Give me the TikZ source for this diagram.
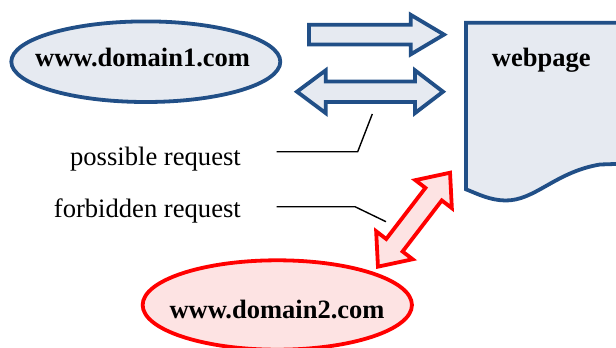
\documentclass[tikz,border=0pt]{standalone}
\usepackage{fontspec}
\setmainfont{Liberation Serif}
\usetikzlibrary{shapes.geometric}
\definecolor{navyline}{RGB}{33,79,135}
\definecolor{navyfill}{RGB}{230,234,241}
\definecolor{redfill}{RGB}{253,227,227}
\begin{document}
\begin{tikzpicture}[x=1pt,y=-1pt,
  bigtext/.style={font=\fontsize{26.5}{30}\selectfont\bfseries, inner sep=0pt},
  plaintext/.style={font=\fontsize{26.6}{30}\selectfont, inner sep=0pt},
  bluebox/.style={draw=navyline, fill=navyfill, line width=3.8pt, line join=miter},
  redbox/.style={draw=red, fill=redfill, line width=3.8pt, line join=miter},
  callout/.style={draw=black, line width=1.4pt},
  oval/.style={ellipse, inner sep=0pt}]
\useasboundingbox (0,0) rectangle (616,348);
\clip (0,0) rectangle (616,348);

% page symbol (runs past the right edge)
\draw[bluebox] (466,189.3) -- (466,22.7) -- (630,22.7) -- (630,163.5) -- (600,164.5)
  .. controls (555,172) and (535,201) .. (505,200.5)
  .. controls (490,200) and (480,195) .. (466,189.3) -- cycle;
\node[bigtext, anchor=base west] (page) at (491.7,66.7) {webpage};

% first domain
\node[oval, bluebox, minimum width=269pt, minimum height=80.6pt] (dom1) at (145.8,61.7) {};
\node[bigtext, anchor=base] (dom1txt) at (142.6,66.7) {www.domain1.com};

% second domain
\node[oval, redbox, minimum width=269.3pt, minimum height=89.4pt] (dom2) at (277.3,305) {};
\node[bigtext, anchor=base] (dom2txt) at (277,318.3) {www.domain2.com};

% one-way arrow
\draw[bluebox] (309,24.7) -- (410.7,24.7) -- (410.7,14.8) -- (444,34.6)
  -- (410.7,54.4) -- (410.7,44.5) -- (309,44.5) -- cycle;

% two-way arrow
\draw[bluebox] (297,91.7) -- (325.7,70.3) -- (325.7,81.4) -- (415,81.4) -- (415,70.3)
  -- (443,91.7) -- (415,113.1) -- (415,102) -- (325.7,102) -- (325.7,113.1) -- cycle;

% tilted two-way arrow
\begin{scope}[shift={(414,219.7)}, rotate=52.5]
  \draw[redbox] (59.2,0) -- (32.2,23) -- (32.2,10.3) -- (-32.2,10.3) -- (-32.2,23)
    -- (-59.2,0) -- (-32.2,-23) -- (-32.2,-10.3) -- (32.2,-10.3) -- (32.2,-23) -- cycle;
\end{scope}

% labels with leader lines
\node[plaintext, anchor=base east] (possible) at (241,165) {possible request};
\node[plaintext, anchor=base east] (forbidden) at (241,217.3) {forbidden request};
\coordinate (p1) at (276.7,151.7);
\coordinate (p2) at (357.7,151.7);
\coordinate (p3) at (372.3,114);
\coordinate (f1) at (276.7,206.7);
\coordinate (f2) at (355,206.7);
\coordinate (f3) at (386,221.7);
\draw[callout] (p1) -- (p2) -- (p3);
\draw[callout] (f1) -- (f2) -- (f3);
\end{tikzpicture}
\end{document}
